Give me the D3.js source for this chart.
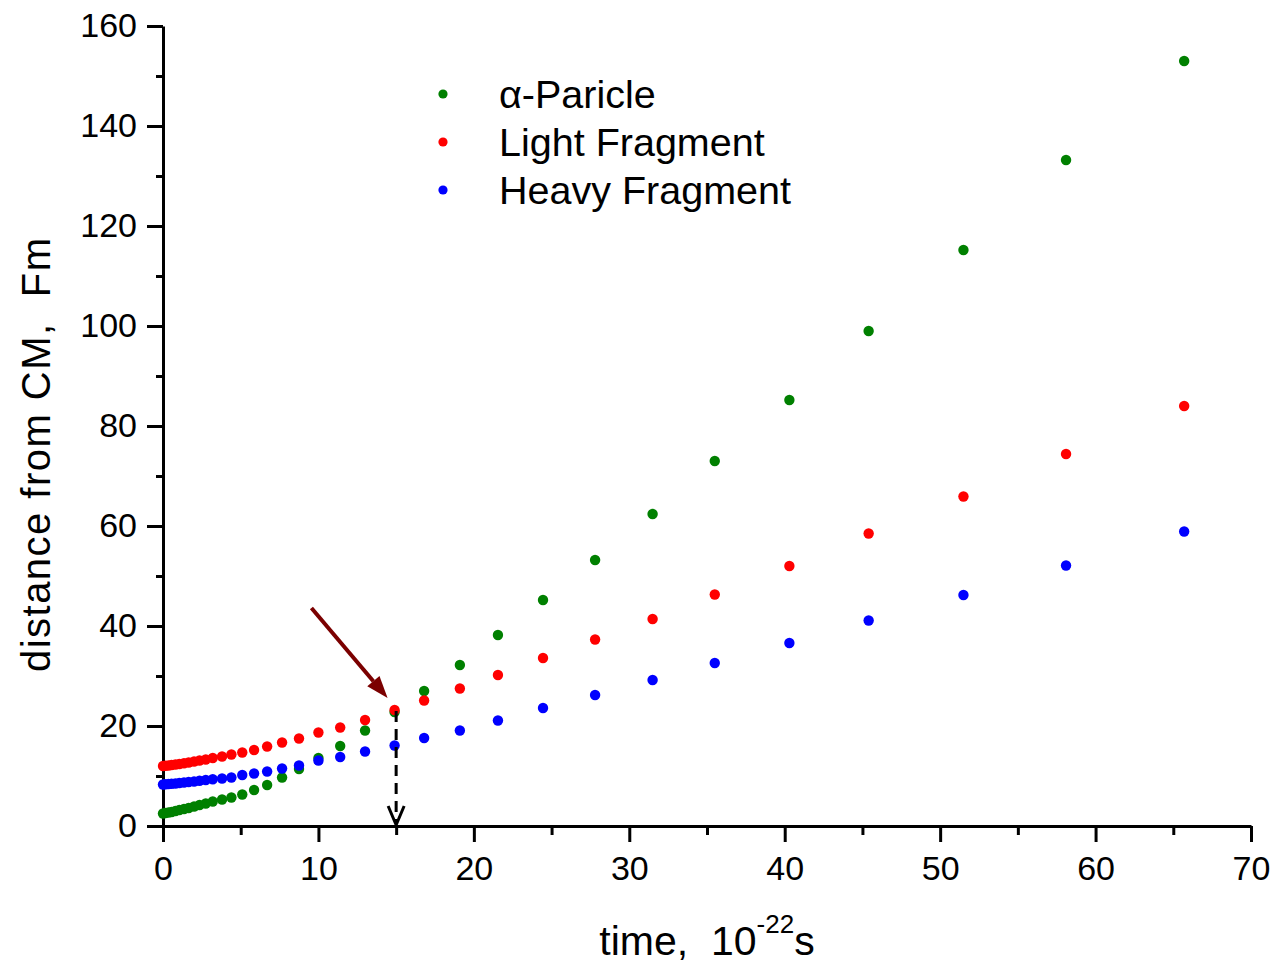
<!DOCTYPE html>
<head>
<meta charset="utf-8">
<script src="https://d3js.org/d3.v7.min.js"></script>
<style>
    body{margin:0;background:#fff;}
    svg text{font-family:Arial,"Liberation Sans",Helvetica,sans-serif;fill:#000;white-space:pre;}
</style>
</head>
<body>
<div id="container"></div>
<script>
    // time, 10^-22 s
    var time = [0, 0.15, 0.35, 0.55, 0.8, 1.05, 1.35, 1.65, 2.0, 2.35, 2.75, 3.2, 3.8, 4.4,
        5.1, 5.86, 6.7, 7.66, 8.75, 10.0, 11.4, 13.0, 14.9, 16.8, 19.1, 21.55, 24.45, 27.8,
        31.5, 35.5, 40.3, 45.4, 51.5, 58.1, 65.7];
    // distance from CM, Fm
    var alpha = [2.5, 2.6, 2.7, 2.8, 3.0, 3.2, 3.4, 3.6, 3.9, 4.2, 4.5, 4.9, 5.3, 5.7,
        6.3, 7.2, 8.2, 9.7, 11.4, 13.6, 16.0, 19.1, 22.8, 27.0, 32.2, 38.2, 45.2, 53.2,
        62.4, 73.0, 85.2, 99.0, 115.2, 133.2, 153.0];
    var light = [12.0, 12.05, 12.1, 12.2, 12.3, 12.4, 12.55, 12.7, 12.9, 13.1, 13.3, 13.6, 13.9, 14.3,
        14.7, 15.2, 15.9, 16.7, 17.5, 18.7, 19.7, 21.2, 23.2, 25.1, 27.5, 30.2, 33.6, 37.3,
        41.4, 46.3, 52.0, 58.5, 65.9, 74.4, 84.0];
    var heavy = [8.3, 8.35, 8.4, 8.45, 8.5, 8.6, 8.7, 8.8, 8.9, 9.05, 9.2, 9.35, 9.5, 9.7,
        10.2, 10.5, 10.9, 11.5, 12.1, 13.1, 13.8, 14.9, 16.1, 17.6, 19.1, 21.1, 23.6, 26.2,
        29.2, 32.6, 36.6, 41.1, 46.2, 52.1, 58.9];
    var seriesNames = ['\u03b1-Paricle', 'Light Fragment', 'Heavy Fragment'];
    var seriesColors = ['#008000', '#ff0000', '#0000ff'];
    var xTicks = [0, 10, 20, 30, 40, 50, 60, 70];
    var yTicks = [0, 20, 40, 60, 80, 100, 120, 140, 160];
    // annotations: scission time marker and the arrow pointing at it
    var scissionT = 15, scissionD = 23;
    var arrowFrom = [9.55, 43.6], arrowTo = [14.45, 25.6];

    var FONT = 'Arial,"Liberation Sans",Helvetica,sans-serif';
    var svg = d3.select('#container').append('svg').attr('width', 1276).attr('height', 968);
    var x = d3.scaleLinear().domain([0, 70]).range([163, 1251]);
    var y = d3.scaleLinear().domain([0, 160]).range([826, 26]);

    //坐标轴 minor ticks first
    svg.append('g').attr('transform', 'translate(0,826)')
        .call(d3.axisBottom(x).tickValues(d3.range(5, 70, 10)).tickSize(9).tickFormat(''))
        .call(g => g.select('.domain').remove())
        .selectAll('line').attr('stroke-width', 3);
    svg.append('g').attr('transform', 'translate(163,0)')
        .call(d3.axisLeft(y).tickValues(d3.range(10, 160, 20)).tickSize(7).tickFormat(''))
        .call(g => g.select('.domain').remove())
        .selectAll('line').attr('stroke-width', 3);

    var xAxis = svg.append('g').attr('transform', 'translate(0,826)')
        .call(d3.axisBottom(x).tickValues(xTicks).tickSize(16).tickSizeOuter(0).tickPadding(14));
    var yAxis = svg.append('g').attr('transform', 'translate(163,0)')
        .call(d3.axisLeft(y).tickValues(yTicks).tickSize(16).tickSizeOuter(0).tickPadding(10));
    [xAxis, yAxis].forEach(function(a){
        a.attr('font-family', FONT);
        a.select('.domain').attr('stroke-width', 3);
        a.selectAll('line').attr('stroke-width', 3);
        a.selectAll('text').attr('font-size', 34);
    });

    //轴标题
    var xt = svg.append('text').attr('x', 707).attr('y', 955).attr('text-anchor', 'middle').attr('font-size', 41);
    xt.append('tspan').text('time,\u00a0\u00a010');
    xt.append('tspan').text('-22').attr('font-size', 26).attr('dy', -22);
    xt.append('tspan').text('s').attr('dy', 22);
    svg.append('text').attr('transform', 'translate(50,455) rotate(-90)')
        .attr('text-anchor', 'middle').attr('font-size', 40)
        .attr('textLength', 434).attr('lengthAdjust', 'spacing')
        .text('distance from CM,\u00a0\u00a0Fm');

    //数据点
    [alpha, light, heavy].forEach(function(vals, k){
        svg.append('g').selectAll('circle').data(vals).enter().append('circle')
            .attr('cx', (d, i) => x(time[i]))
            .attr('cy', d => y(d))
            .attr('r', 5.2)
            .attr('fill', seriesColors[k]);
    });

    //虚线箭头
    svg.append('line')
        .attr('x1', x(scissionT)).attr('y1', y(scissionD))
        .attr('x2', x(scissionT)).attr('y2', y(0) - 3)
        .attr('stroke', '#000').attr('stroke-width', 3).attr('stroke-dasharray', '11,7');
    svg.append('path')
        .attr('d', 'M' + (x(scissionT) - 8) + ',' + (y(0) - 20) + 'L' + x(scissionT) + ',' + (y(0) - 1) + 'L' + (x(scissionT) + 8) + ',' + (y(0) - 20))
        .attr('fill', 'none').attr('stroke', '#000').attr('stroke-width', 3);

    //棕色箭头
    var ax1 = x(arrowFrom[0]), ay1 = y(arrowFrom[1]), ax2 = x(arrowTo[0]), ay2 = y(arrowTo[1]);
    var ang = Math.atan2(ay2 - ay1, ax2 - ax1), headLen = 22, headW = 8;
    var bx = ax2 - headLen * Math.cos(ang), by = ay2 - headLen * Math.sin(ang);
    svg.append('line').attr('x1', ax1).attr('y1', ay1).attr('x2', bx).attr('y2', by)
        .attr('stroke', '#7b0000').attr('stroke-width', 4);
    svg.append('path')
        .attr('d', 'M' + ax2 + ',' + ay2 +
            'L' + (bx + headW * Math.sin(ang)) + ',' + (by - headW * Math.cos(ang)) +
            'L' + (bx - headW * Math.sin(ang)) + ',' + (by + headW * Math.cos(ang)) + 'Z')
        .attr('fill', '#7b0000');

    //图例
    var legend = svg.append('g').selectAll('g').data(seriesNames).enter().append('g')
        .attr('transform', (d, i) => 'translate(443,' + (94 + i * 48) + ')');
    legend.append('circle').attr('r', 4.6).attr('fill', (d, i) => seriesColors[i]);
    legend.append('text').attr('x', 56).attr('y', 14).attr('font-size', 39.5).text(d => d);
</script>
</body>
